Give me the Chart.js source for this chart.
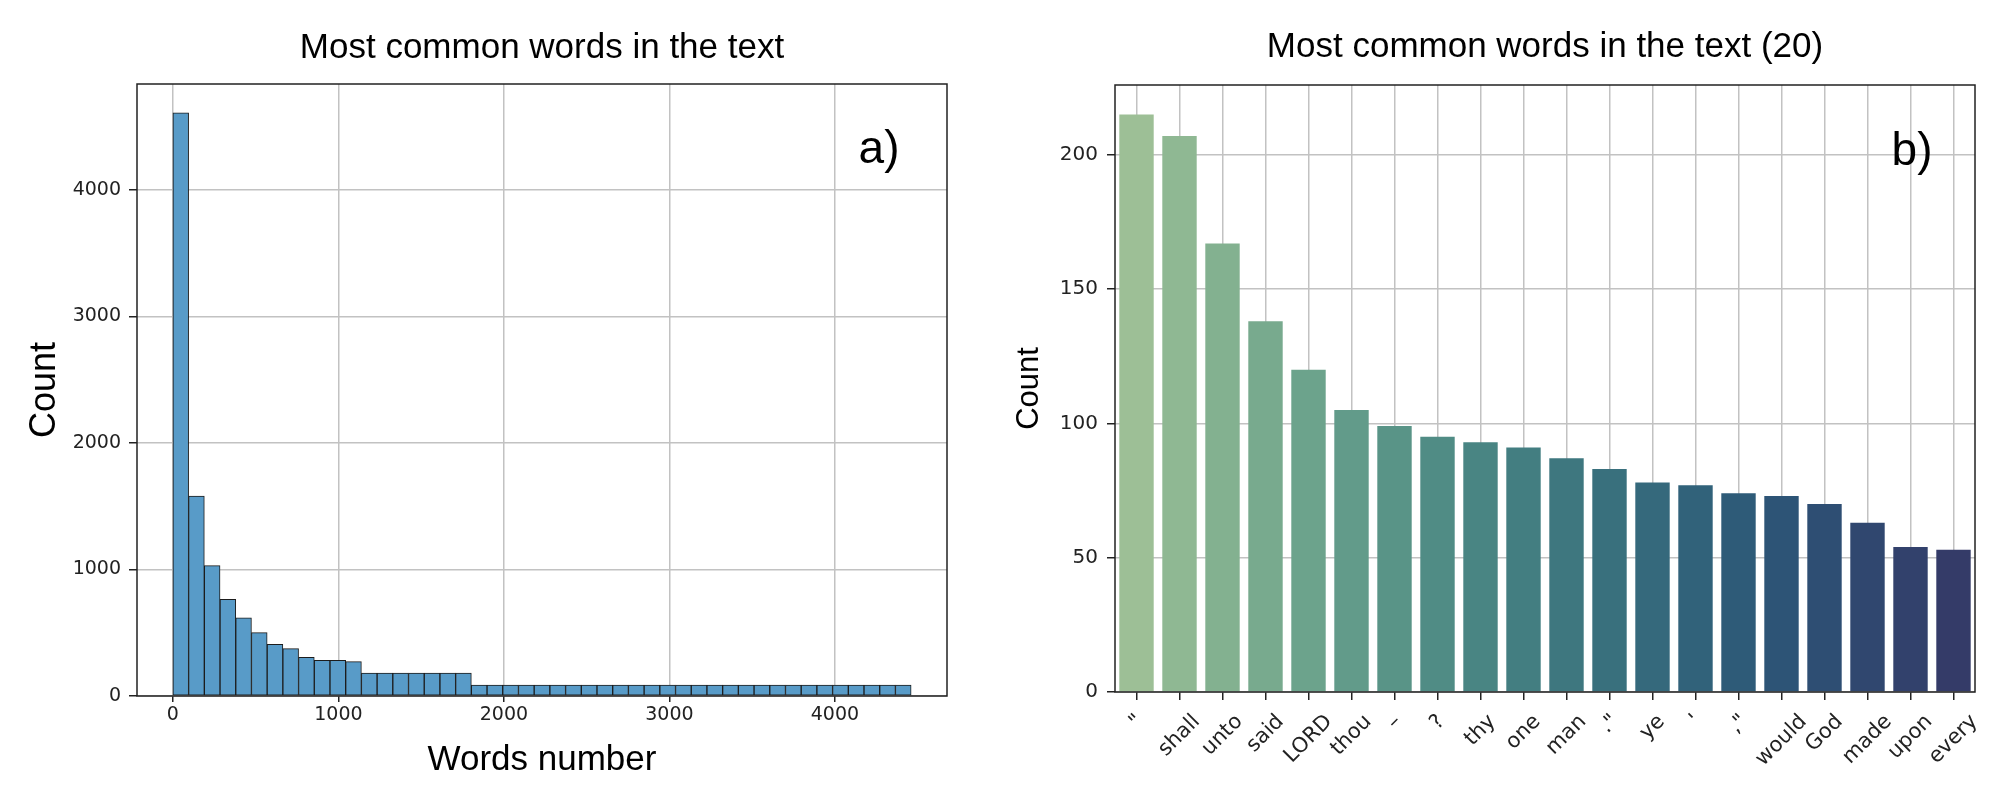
<!DOCTYPE html>
<html>
<head>
<meta charset="utf-8">
<script src="https://cdn.jsdelivr.net/npm/chart.js@4.4.1/dist/chart.umd.min.js"></script>
<style>
  html, body { margin: 0; padding: 0; background: #fff; }
  body { width: 2012px; height: 792px; position: relative; overflow: hidden; }
  canvas { position: absolute; top: 0; }
  #histChart { left: 0; }
  #wordsChart { left: 990px; }
</style>
</head>
<body>
<canvas id="histChart" width="1114" height="792"></canvas>
<canvas id="wordsChart" width="1022" height="792"></canvas>
<script>
// a) histogram: equal-width bins starting at 0
const histBinWidth = 94.9;
const histCounts = [
  4610, 1581, 1031, 764, 617, 501, 409, 375, 306, 282, 282, 272,
  182, 182, 182, 182, 182, 182, 182,
  87, 87, 87, 87, 87, 87, 87, 87, 87, 87, 87, 87, 87, 87,
  87, 87, 87, 87, 87, 87, 87, 87, 87, 87, 87, 87, 87, 87,
];
const histXTicks = [0, 1000, 2000, 3000, 4000];
const histYTicks = [0, 1000, 2000, 3000, 4000];

// b) top 20 words
const topWords = ['"', 'shall', 'unto', 'said', 'LORD', 'thou', '–', '?', 'thy', 'one',
  'man', '."', 'ye', "'", ',"', 'would', 'God', 'made', 'upon', 'every'];
const topCounts = [215, 207, 167, 138, 120, 105, 99, 95, 93, 91,
  87, 83, 78, 77, 74, 73, 70, 63, 54, 53];
const topYTicks = [0, 50, 100, 150, 200];
const crest = ['#9dbf96', '#8fb893', '#83b190', '#78aa8e', '#6ca38c', '#629b8a', '#599487',
  '#508c85', '#498583', '#437e81', '#3e777f', '#39707d', '#35697c', '#31627a', '#2e5b78',
  '#2d5476', '#2e4e73', '#30476f', '#32416c', '#343b68'];

const gridColor = '#c2c2c2';
const ink = '#222';

const frame = {
  id: 'frame',
  afterDraw(chart) {
    const { ctx, chartArea: a } = chart;
    ctx.save();
    ctx.strokeStyle = ink;
    ctx.lineWidth = 1.5;
    ctx.strokeRect(a.left, a.top, a.right - a.left, a.bottom - a.top);
    ctx.restore();
  },
};

const panelTag = {
  id: 'panelTag',
  afterDraw(chart, args, opts) {
    const { ctx, chartArea } = chart;
    ctx.save();
    ctx.font = `${opts.size}px "Liberation Sans"`;
    ctx.fillStyle = '#000';
    ctx.textAlign = 'center';
    ctx.textBaseline = 'middle';
    ctx.fillText(opts.text, chartArea.right - opts.dx, chartArea.top + opts.dy);
    ctx.restore();
  },
};

// rotated tick labels centred under their tick, like matplotlib's rotation=45
const centeredLabels = {
  id: 'centeredLabels',
  afterDraw(chart, args, opts) {
    const { ctx, chartArea } = chart;
    const scale = chart.scales.x;
    ctx.save();
    ctx.font = `${opts.size}px "DejaVu Sans"`;
    ctx.fillStyle = ink;
    ctx.textAlign = 'center';
    ctx.textBaseline = 'middle';
    chart.data.labels.forEach((label, i) => {
      const w = ctx.measureText(label).width;
      const box = (w + opts.size) * Math.SQRT1_2;
      ctx.save();
      ctx.translate(scale.getPixelForTick(i), chartArea.bottom + opts.offset + box / 2);
      ctx.rotate(-Math.PI / 4);
      ctx.fillText(label, 0, 0);
      ctx.restore();
    });
    ctx.restore();
  },
};

const titleFont = size => ({ family: 'Liberation Sans', size, weight: 'normal', lineHeight: 1.2 });
const tickFont = size => ({ family: 'DejaVu Sans', size });
const fixedTicks = values => scale => { scale.ticks = values.map(v => ({ value: v })); };
const plain = v => String(v);

new Chart(document.getElementById('histChart'), {
  type: 'bar',
  data: {
    datasets: [{
      data: histCounts.map((c, i) => ({ x: (i + 0.5) * histBinWidth, y: c })),
      backgroundColor: '#589bc8',
      borderColor: '#1c1c1c',
      borderWidth: 1,
      borderSkipped: false,
      barPercentage: 1,
      categoryPercentage: 1,
    }],
  },
  options: {
    responsive: false,
    animation: false,
    devicePixelRatio: 1,
    layout: { padding: { left: 0, right: 167, top: 0, bottom: 0 } },
    plugins: {
      legend: { display: false },
      tooltip: { enabled: false },
      title: {
        display: true, text: 'Most common words in the text', fullSize: false,
        color: '#000', font: titleFont(35), padding: { top: 27, bottom: 15 },
      },
      panelTag: { text: 'a)', size: 46, dx: 68, dy: 66 },
    },
    scales: {
      x: {
        type: 'linear', min: -217, max: 4677, offset: false, z: 1,
        afterBuildTicks: fixedTicks(histXTicks),
        ticks: { color: ink, font: tickFont(19), padding: 2, maxRotation: 0, callback: plain },
        grid: { offset: false, color: gridColor, lineWidth: 1.5, tickLength: 6, tickColor: ink, tickWidth: 1.5 },
        border: { display: false },
        title: { display: true, text: 'Words number', color: '#000', font: titleFont(35), padding: { top: 0, bottom: 11 } },
        afterFit: s => { s.height = 96; },
      },
      y: {
        min: 0, max: 4838, z: 1,
        afterBuildTicks: fixedTicks(histYTicks),
        ticks: { color: ink, font: tickFont(19), padding: 8, callback: plain },
        grid: { color: gridColor, lineWidth: 1.5, tickLength: 8, tickColor: ink, tickWidth: 1.5 },
        border: { display: false },
        title: { display: true, text: 'Count', color: '#000', font: titleFont(36), padding: { top: 23, bottom: 0 } },
        afterFit: s => { s.width = 137; },
      },
    },
  },
  plugins: [frame, panelTag],
});

new Chart(document.getElementById('wordsChart'), {
  type: 'bar',
  data: {
    labels: topWords,
    datasets: [{
      data: topCounts,
      backgroundColor: crest,
      borderWidth: 0,
      barPercentage: 0.8,
      categoryPercentage: 1,
    }],
  },
  options: {
    responsive: false,
    animation: false,
    devicePixelRatio: 1,
    layout: { padding: { left: 0, right: 37, top: 0, bottom: 0 } },
    plugins: {
      legend: { display: false },
      tooltip: { enabled: false },
      title: {
        display: true, text: 'Most common words in the text (20)', fullSize: false,
        color: '#000', font: titleFont(35), padding: { top: 26, bottom: 17 },
      },
      panelTag: { text: 'b)', size: 46, dx: 63, dy: 67 },
      centeredLabels: { size: 21, offset: 19 },
    },
    scales: {
      x: {
        offset: true, z: 1,
        ticks: { display: false },
        grid: { offset: false, color: gridColor, lineWidth: 1.5, tickLength: 8, tickColor: ink, tickWidth: 1.5 },
        border: { display: false },
        afterFit: s => { s.height = 100; },
      },
      y: {
        min: 0, max: 226, z: 1,
        afterBuildTicks: fixedTicks(topYTicks),
        ticks: { color: ink, font: tickFont(20), padding: 9, callback: plain },
        grid: { color: gridColor, lineWidth: 1.5, tickLength: 8, tickColor: ink, tickWidth: 1.5 },
        border: { display: false },
        title: { display: true, text: 'Count', color: '#000', font: titleFont(31), padding: { top: 21, bottom: 0 } },
        afterFit: s => { s.width = 125; },
      },
    },
  },
  plugins: [frame, panelTag, centeredLabels],
});
</script>
</body>
</html>
